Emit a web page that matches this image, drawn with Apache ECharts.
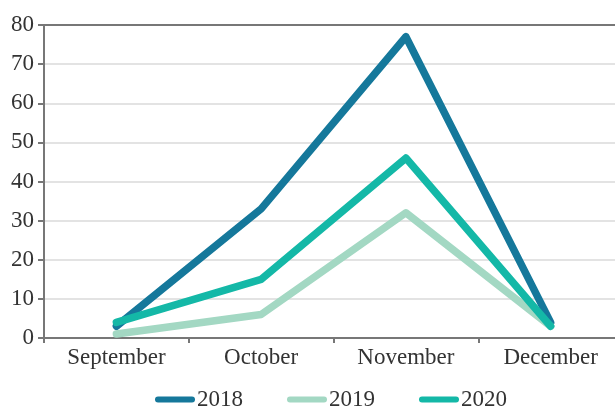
<!DOCTYPE html>
<html>
<head>
<meta charset="utf-8">
<script src="https://cdn.jsdelivr.net/npm/echarts@6/dist/echarts.min.js"></script>
<style>
  html, body { margin: 0; padding: 0; background: #fff; }
  #chart { width: 615px; height: 408px; }
</style>
</head>
<body>
<div id="chart"></div>
<script>
var months = ['September', 'October', 'November', 'December'];
var s2018 = [3, 33, 77, 4];
var s2019 = [1, 6, 32, 3];
var s2020 = [4, 15, 46, 3];

var font = 'Liberation Serif';
var pill = 'path://M3,0 H37 A3,3 0 0 1 37,6 H3 A3,3 0 0 1 3,0 Z';

function line(name, data, color) {
    return {
        name: name,
        type: 'line',
        data: data,
        symbol: 'none',
        lineStyle: { width: 7.5, color: color, cap: 'round', join: 'round' },
        itemStyle: { color: color }
    };
}

var myChart = echarts.init(document.getElementById('chart'));
var option = {
    animation: false,
    grid: { left: 44, right: -8, top: 25, bottom: 70, outerBoundsMode: 'none', containLabel: false },
    legend: {
        bottom: -8,
        left: 150,
        itemWidth: 40,
        itemHeight: 7,
        itemGap: 44,
        icon: pill,
        textStyle: { fontFamily: font, fontSize: 23, color: '#333', padding: [0, 0, 0, -3] },
        data: ['2018', '2019', '2020']
    },
    xAxis: [{
        type: 'category',
        data: months,
        boundaryGap: true,
        axisLine: { lineStyle: { color: '#777', width: 2 } },
        axisTick: { show: true, length: 5, lineStyle: { color: '#777', width: 2 } },
        axisLabel: { fontFamily: font, fontSize: 23, color: '#333', margin: 8 }
    }, {
        type: 'category',
        position: 'top',
        data: months,
        axisLine: { lineStyle: { color: '#777', width: 2 } },
        axisTick: { show: false },
        axisLabel: { show: false }
    }],
    yAxis: {
        type: 'value',
        min: 0,
        max: 80,
        interval: 10,
        axisLine: { show: true, lineStyle: { color: '#777', width: 2 } },
        axisTick: { show: true, length: 6, lineStyle: { color: '#777', width: 2 } },
        axisLabel: { fontFamily: font, fontSize: 23, color: '#333', margin: 10 },
        splitLine: { lineStyle: { color: '#dadada', width: 1.5 } }
    },
    series: [
        line('2018', s2018, '#15789b'),
        line('2019', s2019, '#a3d8c3'),
        line('2020', s2020, '#14b8a7')
    ]
};
myChart.setOption(option);
</script>
</body>
</html>
